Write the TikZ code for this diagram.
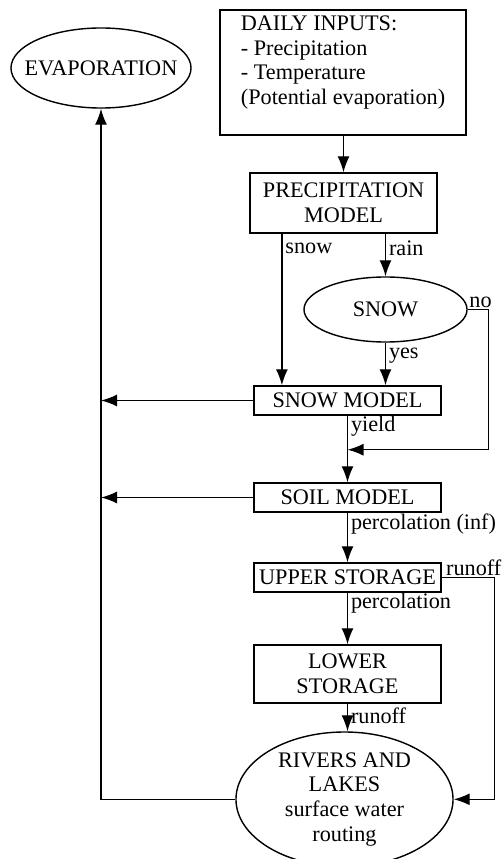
\documentclass[tikz,border=0pt]{standalone}
\usepackage{fontspec}
\setmainfont{Liberation Serif}
\usepackage{tikz}
\usetikzlibrary{arrows.meta}
\usetikzlibrary{shapes.geometric}

\begin{document}
\begin{tikzpicture}[x=0.025cm,y=-0.025cm]
            \tikzstyle{edge}=[draw=black,line width=1pt,-]
            \tikzstyle{arrow}=[draw=black,line width=1pt,-{Latex[length=4mm,width=3mm]}]
            \tikzstyle{box}=[rectangle,draw=black,line width=1pt,minimum width=4.675cm,inner sep=2pt,align=center,font=\fontsize{15.8}{17.5}\selectfont]
            \tikzstyle{oval}=[ellipse,draw=black,line width=1pt,inner sep=0pt,align=center,font=\fontsize{15.8}{17.5}\selectfont]
            \tikzstyle{lbl}=[font=\fontsize{15.8}{17.5}\selectfont,inner sep=2pt]

            \useasboundingbox (0,0) rectangle (503,859);

            \node[oval,inner xsep=-0.32cm,minimum width=4.5cm,minimum height=2cm] (evap) at (101,68) {EVAPORATION};
            \node[box,align=left,minimum width=6.15cm,minimum height=3.125cm] (inputs) at (343,72.5)
                {DAILY INPUTS:\\- Precipitation\\- Temperature\\(Potential evaporation)\\\mbox{}};
            \node[box,minimum height=1.5cm] (precip) at (343.5,203) {PRECIPITATION\\MODEL};
            \node[oval,minimum width=4.075cm,minimum height=1.625cm] (snow) at (385.5,309.5) {SNOW};
            \node[box,minimum height=0.725cm] (snowmodel) at (347.5,400.5) {SNOW MODEL};
            \node[box,minimum height=0.725cm] (soil) at (347.5,497.5) {SOIL MODEL};
            \node[box,minimum height=0.725cm] (upper) at (347.5,577.5) {UPPER STORAGE};
            \node[box,minimum height=1.45cm] (lower) at (347.5,674) {LOWER\\STORAGE};
            \node[oval,inner ysep=-0.12cm,minimum width=5.425cm,minimum height=3.365cm] (rivers) at (344.5,799.3)
                {RIVERS AND\\LAKES\\surface water\\routing};

            \coordinate (merge) at ([yshift=-0.85cm]snowmodel.south);

            \path[arrow] (inputs.south -| precip.north) -- (precip.north);

            \path[arrow] ([xshift=-1.54cm]precip.south) -- ([xshift=-1.54cm]precip.south |- snowmodel.north)
                node[lbl,pos=0.1,anchor=west] {snow};
            \path[arrow] (precip.south -| snow.north) -- (snow.north)
                node[lbl,pos=0.35,anchor=west] {rain};
            \path[arrow] (snow.south) -- (snow.south |- snowmodel.north)
                node[lbl,pos=0.3,anchor=west] {yes};
            \path[arrow] (snow.east) -- ++(0.525cm,0) |- (merge);
            \node[lbl,anchor=south west,inner sep=1pt] (no) at (snow.east) {no};

            \path[arrow] (snowmodel.south) -- (soil.north)
                node[lbl,pos=0.15,anchor=west] {yield};
            \path[arrow] (soil.south) -- (upper.north)
                node[lbl,pos=0.22,anchor=west] {percolation (inf)};
            \path[arrow] (upper.south) -- (lower.north)
                node[lbl,pos=0.2,anchor=west] {percolation};
            \path[arrow] (lower.south) -- (lower.south |- rivers.north)
                node[lbl,pos=0.45,anchor=west] {runoff};
            \path[arrow] (upper.east) -- ++(1.325cm,0) |- (rivers.east);
            \node[lbl,anchor=south west,inner sep=1pt] (runoff) at ([xshift=2pt]upper.east) {runoff};

            \path[arrow] (snowmodel.west) -- (snowmodel.west -| evap.south);
            \path[arrow] (soil.west) -- (soil.west -| evap.south);
            \path[arrow] (rivers.west) -| (evap.south);
        \end{tikzpicture}
\end{document}
